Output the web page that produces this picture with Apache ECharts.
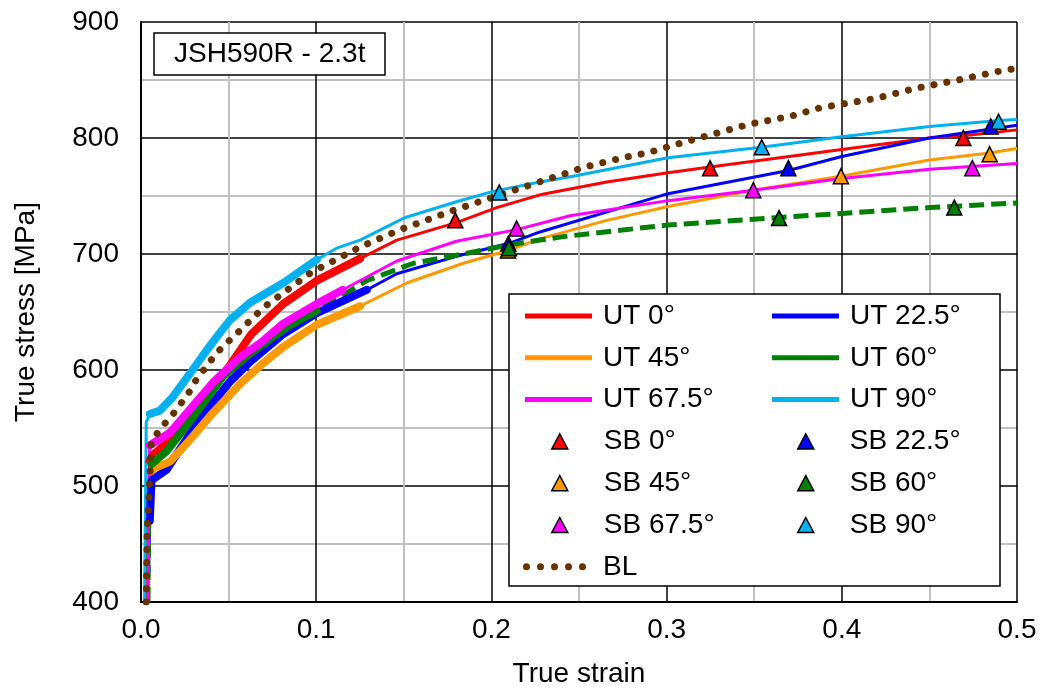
<!DOCTYPE html>
<html>
<head>
<meta charset="utf-8">
<title>JSH590R - 2.3t</title>
<script src="https://cdn.jsdelivr.net/npm/echarts@6/dist/echarts.min.js"></script>
<style>
  html, body { margin: 0; padding: 0; background: #fff; }
  #chart { width: 1041px; height: 694px; }
</style>
</head>
<body>
<div id="chart"></div>
<script>
// 单轴拉伸曲线 (true strain, true stress)
const ut0 = [[0.003,400],[0.004,480],[0.005,522],[0.007,527],[0.0146,537],[0.024,551],[0.0375,577],[0.0489,600],[0.063,631],[0.0812,657],[0.1003,677],[0.125,696],[0.146,712],[0.18,727],[0.203,740],[0.2277,751],[0.2658,762],[0.3008,770],[0.3248,775],[0.4,790],[0.45,800],[0.4694,802],[0.5,807]];
const ut225 = [[0.004,400],[0.005,470],[0.006,505],[0.0146,514],[0.028,545],[0.0375,565],[0.0508,590],[0.0622,607],[0.0812,631],[0.1003,649],[0.1288,669],[0.146,683],[0.18,698],[0.2097,709],[0.2277,719],[0.3008,752],[0.3695,772],[0.4,784],[0.45,800],[0.5,811]];
const ut45 = [[0.004,400],[0.0045,480],[0.006,513],[0.007,515],[0.0166,521],[0.028,540],[0.041,563],[0.0565,588],[0.0698,606],[0.0812,620],[0.1003,639],[0.125,655],[0.1517,675],[0.184,692],[0.2095,703],[0.2277,713],[0.2658,729],[0.3008,741],[0.3495,755],[0.3995,767],[0.45,781],[0.4844,787],[0.5,791]];
const ut60 = [[0.004,400],[0.0045,490],[0.006,519],[0.0146,530],[0.028,556],[0.047,595],[0.0622,614],[0.0832,637],[0.1003,651],[0.1136,663],[0.1288,677],[0.1555,692],[0.184,700],[0.2106,708],[0.2277,712],[0.241,715],[0.3008,725],[0.3495,730],[0.4,735],[0.4503,740],[0.5,744]];
const ut675 = [[0.004,400],[0.0045,500],[0.005,535],[0.007,537],[0.0166,546],[0.028,566],[0.041,589],[0.0565,611],[0.068,623],[0.0812,640],[0.1003,657],[0.115,669],[0.146,694],[0.18,711],[0.2144,721],[0.2449,733],[0.3008,746],[0.3495,755],[0.4,765],[0.45,773],[0.5,778]];
const ut90 = [[0.002,400],[0.003,555],[0.005,562],[0.0108,565],[0.0183,577],[0.028,597],[0.0375,617],[0.045,632],[0.0508,643],[0.0622,658],[0.0812,675],[0.1003,695],[0.1117,705],[0.125,712],[0.15,731],[0.18,745],[0.201,754],[0.2277,762],[0.2466,767],[0.3008,783],[0.354,792],[0.4,801],[0.45,810],[0.49,815],[0.5,816]];
// 拉伸数据 (粗线) 的结束应变
const utDataEnd = [0.125, 0.13, 0.125, 0.113, 0.115, 0.11];

// 双轴 (BL)
const bl = [[0.003,400],[0.0035,460],[0.005,505],[0.0055,525],[0.006,538],[0.0108,549],[0.0183,562],[0.0232,572],[0.028,582],[0.032,593],[0.0375,603],[0.0422,613],[0.048,622],[0.0537,630],[0.07,654],[0.097,684],[0.125,706],[0.148,721],[0.179,738],[0.207,752],[0.2534,775],[0.275,783],[0.2886,787],[0.316,799],[0.3476,812],[0.3714,819],[0.3875,826],[0.419,834],[0.4427,843],[0.4664,850],[0.4912,858],[0.5,860]];

// 剪切 (SB) 点
const sb0 = [[0.1794,729],[0.3248,774],[0.4694,800]];
const sb225 = [[0.2097,709],[0.3695,774],[0.485,810]];
const sb45 = [[0.2095,703],[0.3995,767],[0.4844,786]];
const sb60 = [[0.21,705],[0.3642,731],[0.4642,740]];
const sb675 = [[0.2144,722],[0.3495,755],[0.4745,774]];
const sb90 = [[0.2045,753],[0.3543,792],[0.4895,814]];

const angles = ['0°', '22.5°', '45°', '60°', '67.5°', '90°'];
const colors = ['#ff0000', '#0000ff', '#ff9900', '#008000', '#ff00ff', '#00b0f0'];
const blColor = '#663300';
const FONT = 'Liberation Sans, Arial, sans-serif';

(function() {
  'use strict';

  const chart = echarts.init(document.getElementById('chart'), null, { renderer: 'canvas' });
  const utList = [ut0, ut225, ut45, ut60, ut675, ut90];
  const sbList = [sb0, sb225, sb45, sb60, sb675, sb90];

  const series = [];

  // 细线 (全范围)
  utList.forEach(function(data, i) {
    const isGreen = i === 3;
    series.push({
      name: 'UT ' + angles[i],
      type: 'line',
      data: data,
      symbol: 'none',
      color: colors[i],
      lineStyle: {
        color: colors[i],
        width: isGreen ? 5 : 3,
        type: isGreen ? [15, 7] : 'solid'
      },
      z: 2
    });
  });

  // 粗线 (试验数据部分)
  utList.forEach(function(data, i) {
    series.push({
      name: 'UT data ' + angles[i],
      type: 'line',
      data: data.filter(function(p) { return p[0] >= 0.005 && p[0] <= utDataEnd[i]; }),
      symbol: 'none',
      lineStyle: { color: colors[i], width: 8, cap: 'round' },
      z: 2
    });
  });

  series.push({
    name: 'BL',
    type: 'line',
    data: bl,
    symbol: 'none',
    color: blColor,
    lineStyle: { color: blColor, width: 7, type: [0.1, 13], cap: 'round' },
    z: 3
  });

  sbList.forEach(function(data, i) {
    series.push({
      name: 'SB ' + angles[i],
      type: 'scatter',
      data: data,
      symbol: 'triangle',
      symbolSize: 15,
      color: colors[i],
      itemStyle: { color: colors[i], borderColor: '#000', borderWidth: 1.5, opacity: 1 },
      z: 4
    });
  });

  // 图例: 每行中心 y = 316 + 41.8 * 行号
  const ROW0 = 316, ROW_H = 41.8;
  function legendBlock(left, row, names, opts) {
    return Object.assign({
      orient: 'vertical',
      left: left,
      top: ROW0 + ROW_H * row - 15,
      padding: 0,
      itemGap: ROW_H - 30,
      selectedMode: false,
      data: names,
      z: 5
    }, opts, {
      textStyle: { fontSize: 28, lineHeight: 30, color: '#000', fontFamily: FONT, padding: [0, 0, 0, opts.textPad] }
    });
  }
  const lineLegend = { icon: 'rect', itemWidth: 67, itemHeight: 5, textPad: 6, itemStyle: { borderWidth: 0 } };
  const triLegend = { icon: 'triangle', itemWidth: 16, itemHeight: 15, textPad: 31, itemStyle: { borderColor: '#000', borderWidth: 1.5, opacity: 1 } };
  const dotPath = 'path://M0,3.5a3.5,3.5 0 1,0 7,0a3.5,3.5 0 1,0 -7,0Z' +
    'M14,3.5a3.5,3.5 0 1,0 7,0a3.5,3.5 0 1,0 -7,0Z' +
    'M28,3.5a3.5,3.5 0 1,0 7,0a3.5,3.5 0 1,0 -7,0Z' +
    'M42,3.5a3.5,3.5 0 1,0 7,0a3.5,3.5 0 1,0 -7,0Z' +
    'M56,3.5a3.5,3.5 0 1,0 7,0a3.5,3.5 0 1,0 -7,0Z';
  const dotLegend = { icon: dotPath, itemWidth: 63, itemHeight: 7, textPad: 12, itemStyle: { borderWidth: 0 } };

  const option = {
    animation: false,
    backgroundColor: '#fff',
    textStyle: { fontFamily: FONT },
    title: {
      text: 'JSH590R - 2.3t',
      left: 154,
      top: 33,
      padding: [7, 20],
      borderColor: '#000',
      borderWidth: 1.5,
      backgroundColor: '#fff',
      textStyle: { fontSize: 28, fontWeight: 'normal', color: '#000', fontFamily: FONT, lineHeight: 28 }
    },
    grid: { left: 141, right: 24, top: 22, bottom: 92 },
    xAxis: {
      type: 'value',
      min: 0,
      max: 0.5,
      interval: 0.1,
      name: 'True strain',
      nameLocation: 'middle',
      nameGap: 58,
      nameTextStyle: { fontSize: 28, color: '#000', fontFamily: FONT },
      axisLine: { show: true, onZero: false, lineStyle: { color: '#000', width: 2 } },
      axisTick: { show: false },
      axisLabel: { fontSize: 28, color: '#000', margin: 14, fontFamily: FONT, formatter: function(v) { return v.toFixed(1); } },
      splitLine: { show: true, lineStyle: { color: '#000', width: 1.5 } },
      minorTick: { show: false, splitNumber: 2 },
      minorSplitLine: { show: true, lineStyle: { color: '#c0c0c0', width: 2 } }
    },
    yAxis: {
      type: 'value',
      min: 400,
      max: 900,
      interval: 100,
      name: 'True stress [MPa]',
      nameLocation: 'middle',
      nameGap: 101,
      nameTextStyle: { fontSize: 28, color: '#000', fontFamily: FONT },
      axisLine: { show: true, onZero: false, lineStyle: { color: '#000', width: 2 } },
      axisTick: { show: false },
      axisLabel: { fontSize: 28, color: '#000', margin: 22, fontFamily: FONT },
      splitLine: { show: true, lineStyle: { color: '#000', width: 1.5 } },
      minorTick: { show: false, splitNumber: 2 },
      minorSplitLine: { show: true, lineStyle: { color: '#c0c0c0', width: 2 } }
    },
    legend: [
      legendBlock(525, 0, ['UT 0°', 'UT 45°', 'UT 67.5°'], lineLegend),
      legendBlock(772, 0, ['UT 22.5°', 'UT 60°', 'UT 90°'], lineLegend),
      legendBlock(551, 3, ['SB 0°', 'SB 45°', 'SB 67.5°'], triLegend),
      legendBlock(797, 3, ['SB 22.5°', 'SB 60°', 'SB 90°'], triLegend),
      legendBlock(523, 6, ['BL'], dotLegend)
    ],
    graphic: {
      elements: [{
        type: 'rect',
        z: 3,
        shape: { x: 509, y: 294, width: 491, height: 292 },
        style: { fill: '#fff', stroke: '#000', lineWidth: 1.5 }
      }]
    },
    series: series
  };

  chart.setOption(option);
})();
</script>
</body>
</html>
